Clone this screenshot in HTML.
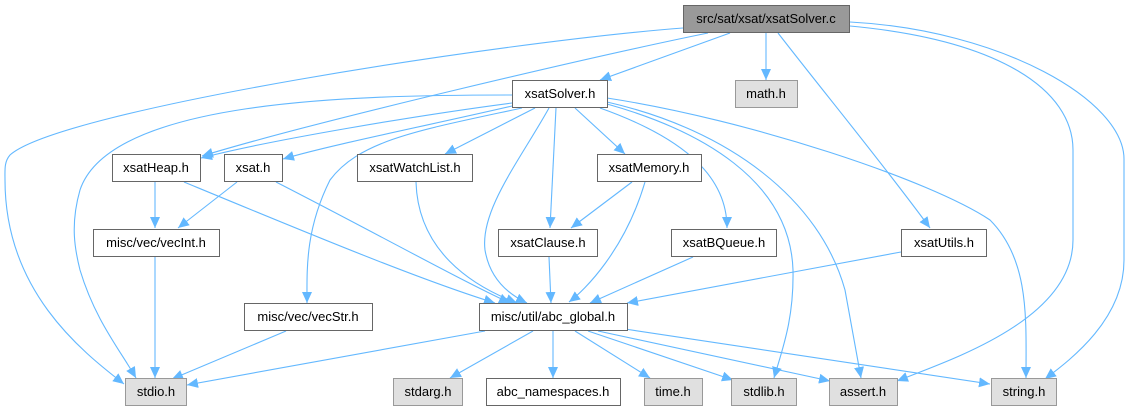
<!DOCTYPE html>
<html><head><meta charset="utf-8"><style>
html,body{margin:0;padding:0;background:#fff;}
svg{display:block;}
text{font-family:"Liberation Sans",Arial,sans-serif;font-size:13px;fill:#000;}
</style></head><body>
<svg width="1131" height="411" viewBox="0 0 1131 411" xmlns="http://www.w3.org/2000/svg">
<defs>
<marker id="a" markerUnits="userSpaceOnUse" markerWidth="12" markerHeight="10" refX="11" refY="5" orient="auto">
<path d="M0,0 L11,5 L0,10 z" fill="#63b8ff"/>
</marker>
</defs>
<g fill="none" stroke="#63b8ff" stroke-width="1.1" marker-end="url(#a)">
<path d="M683,28 C500,42 60,110 10,155 C4,162 5,170 5,180 C5,290 80,350 124,384"/>
<path d="M708,33 C600,55 320,120 202,156"/>
<path d="M730,33 L600,80"/>
<path d="M766,33 L766,80"/>
<path d="M778,33 C830,100 880,160 930,228"/>
<path d="M850,26 C1000,40 1073,90 1073,150 L1073,240 C1073,320 950,360 897,381"/>
<path d="M850,22 C1000,30 1125,100 1124,160 L1124,260 C1124,320 1070,360 1045,379"/>
<path d="M512,95 C350,95 110,100 80,190 C70,225 75,250 80,270 C95,320 120,350 136,378"/>
<path d="M512,103 C420,115 270,140 201,158"/>
<path d="M512,106 C430,125 330,145 283,159"/>
<path d="M535,108 L445,154"/>
<path d="M522,108 C420,130 360,140 330,180 C305,230 307,270 307,303"/>
<path d="M549,108 C520,160 480,210 485,250 C490,280 510,295 527,303"/>
<path d="M556,108 L550,228"/>
<path d="M575,108 L625,154"/>
<path d="M600,108 C690,140 727,180 727,228"/>
<path d="M607,104 C700,130 790,180 793,270 C794,320 782,350 774,378"/>
<path d="M607,102 C730,130 820,200 845,290 L861,378"/>
<path d="M607,98 C750,120 930,180 990,220 C1030,260 1026,320 1026,378"/>
<path d="M155,182 L155,228"/>
<path d="M184,182 C300,230 420,280 495,303"/>
<path d="M237,182 L178,228"/>
<path d="M276,182 C370,230 460,280 510,303"/>
<path d="M416,182 C418,250 470,285 517,303"/>
<path d="M632,182 L571,228"/>
<path d="M645,182 C625,250 585,290 569,302"/>
<path d="M549,257 L551,303"/>
<path d="M693,257 L590,303"/>
<path d="M901,252 L627,303"/>
<path d="M155,257 L155,378"/>
<path d="M286,331 L172,379"/>
<path d="M485,331 L187,385"/>
<path d="M533,331 L450,378"/>
<path d="M553,331 L553,378"/>
<path d="M575,331 L650,378"/>
<path d="M588,331 L733,380"/>
<path d="M598,331 L830,381"/>
<path d="M625,329 L990,384"/>
</g>
<g stroke="#666" stroke-width="1">
<rect x="683.5" y="5.5" width="166" height="27" fill="#999"/>
<rect x="512.5" y="80.5" width="95" height="27" fill="#fff"/>
<rect x="735.5" y="80.5" width="62" height="27" fill="#e0e0e0" stroke="#999"/>
<rect x="112.5" y="154.5" width="88" height="27" fill="#fff"/>
<rect x="224.5" y="154.5" width="58" height="27" fill="#fff"/>
<rect x="357.5" y="154.5" width="115" height="27" fill="#fff"/>
<rect x="597.5" y="154.5" width="104" height="27" fill="#fff"/>
<rect x="93.5" y="229.5" width="126" height="27" fill="#fff"/>
<rect x="498.5" y="229.5" width="99" height="27" fill="#fff"/>
<rect x="671.5" y="229.5" width="105" height="27" fill="#fff"/>
<rect x="901.5" y="229.5" width="85" height="27" fill="#fff"/>
<rect x="244.5" y="303.5" width="128" height="27" fill="#fff"/>
<rect x="479.5" y="303.5" width="148" height="27" fill="#fff"/>
<rect x="125.5" y="378.5" width="61" height="27" fill="#e0e0e0" stroke="#999"/>
<rect x="393.5" y="378.5" width="69" height="27" fill="#e0e0e0" stroke="#999"/>
<rect x="486.5" y="378.5" width="134" height="27" fill="#fff"/>
<rect x="644.5" y="378.5" width="58" height="27" fill="#e0e0e0" stroke="#999"/>
<rect x="731.5" y="378.5" width="65" height="27" fill="#e0e0e0" stroke="#999"/>
<rect x="829.5" y="378.5" width="68" height="27" fill="#e0e0e0" stroke="#999"/>
<rect x="991.5" y="378.5" width="65" height="27" fill="#e0e0e0" stroke="#999"/>
</g>
<g text-anchor="middle">
<text x="766" y="23">src/sat/xsat/xsatSolver.c</text>
<text x="560" y="98">xsatSolver.h</text>
<text x="766" y="98">math.h</text>
<text x="156" y="172">xsatHeap.h</text>
<text x="253" y="172">xsat.h</text>
<text x="415" y="172">xsatWatchList.h</text>
<text x="649" y="172">xsatMemory.h</text>
<text x="156" y="247">misc/vec/vecInt.h</text>
<text x="548" y="247">xsatClause.h</text>
<text x="724" y="247">xsatBQueue.h</text>
<text x="944" y="247">xsatUtils.h</text>
<text x="308" y="321">misc/vec/vecStr.h</text>
<text x="553" y="321">misc/util/abc_global.h</text>
<text x="156" y="396">stdio.h</text>
<text x="428" y="396">stdarg.h</text>
<text x="553" y="396">abc_namespaces.h</text>
<text x="673" y="396">time.h</text>
<text x="764" y="396">stdlib.h</text>
<text x="863" y="396">assert.h</text>
<text x="1024" y="396">string.h</text>
</g>
</svg>
</body></html>
